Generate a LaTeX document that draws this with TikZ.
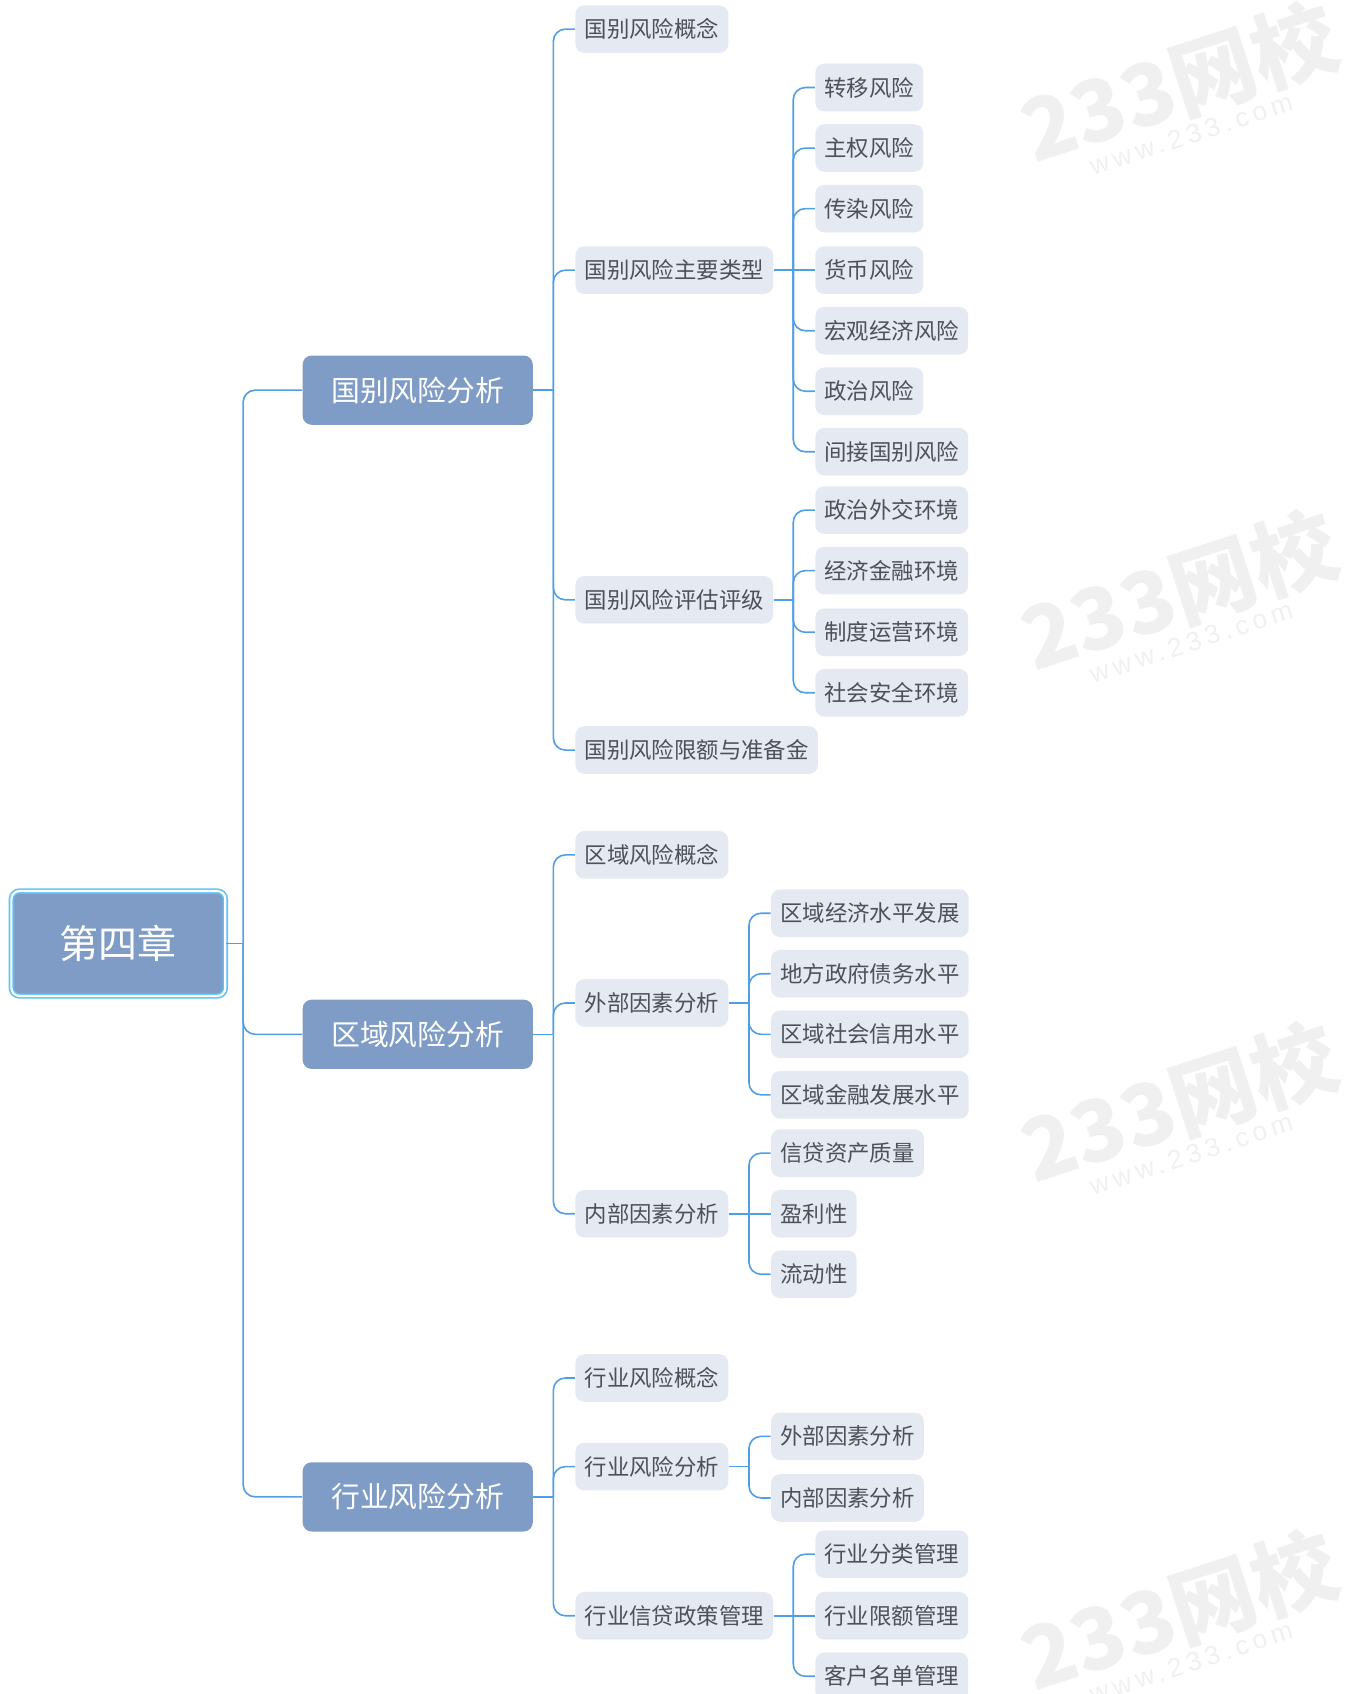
\documentclass[tikz,border=0pt]{standalone}
\usepackage{fontspec}
\setmainfont{Noto Sans CJK SC}
\newfontfamily\wmfont[LetterSpace=18]{Liberation Sans}
\definecolor{rootfill}{HTML}{7F9CC6}
\definecolor{rootline}{HTML}{5CC3F2}
\definecolor{itemfill}{HTML}{E5E9F1}
\definecolor{itemtext}{HTML}{4C5259}
\definecolor{linkblue}{HTML}{509FE6}
\definecolor{wmgray}{HTML}{F0F0F0}
\definecolor{wmlight}{HTML}{F0F0F0}
\tikzset{
    rootnode/.style={draw=rootline,line width=0.8pt,double=white,double distance=1.1pt,fill=rootfill,rounded corners=4pt,minimum width=106.9pt,minimum height=52.4pt,text=white,font=\fontsize{19.5pt}{22pt}\selectfont},
    areanode/.style={fill=rootfill,rounded corners=4.5pt,minimum width=115pt,minimum height=34.6pt,text=white,font=\fontsize{14.4pt}{17pt}\selectfont},
    itemnode/.style={fill=itemfill,rounded corners=4.5pt,anchor=west,inner xsep=4.6pt,inner ysep=0pt,minimum height=23.8pt,text=itemtext,font=\fontsize{11.2pt}{13pt}\selectfont},
    link/.style={draw=linkblue,line width=0.8pt},
    elbow/.style={link,rounded corners=6pt},
    wmbig/.style={text=wmgray,rotate=18,font=\fontsize{42.5pt}{46pt}\selectfont\bfseries},
    wmsmall/.style={text=wmlight,rotate=18,font=\wmfont\fontsize{13.2pt}{15pt}\selectfont}
}
\begin{document}
\begin{tikzpicture}[x=0.54pt,y=-0.54pt]
        \useasboundingbox (0,0) rectangle (1251,1567.4);
        %% Watermarks
        \node[wmbig] (wma1) at (1091,76) {233网校};
        \node[wmsmall] (wmb1) at (1102,124) {www.233.com};
        \node[wmbig] (wma2) at (1091,546) {233网校};
        \node[wmsmall] (wmb2) at (1102,594) {www.233.com};
        \node[wmbig] (wma3) at (1091,1020) {233网校};
        \node[wmsmall] (wmb3) at (1102,1068) {www.233.com};
        \node[wmbig] (wma4) at (1091,1490) {233网校};
        \node[wmsmall] (wmb4) at (1102,1538) {www.233.com};
        %% Root
        \node[rootnode] (root) at (109.5,873) {第四章};
        %% Areas
        \node[areanode] (ca) at (386.5,361) {国别风险分析};
        \node[areanode] (ra) at (386.5,957) {区域风险分析};
        \node[areanode] (ia) at (386.5,1385) {行业风险分析};
        %% Country risk
        \node[itemnode] (ca1) at (532,27) {国别风险概念};
        \node[itemnode] (ca2) at (532,250) {国别风险主要类型};
        \node[itemnode] (ca3) at (532,555) {国别风险评估评级};
        \node[itemnode] (ca4) at (532,694) {国别风险限额与准备金};
        \node[itemnode] (ca2a) at (754,81) {转移风险};
        \node[itemnode] (ca2b) at (754,137) {主权风险};
        \node[itemnode] (ca2c) at (754,193) {传染风险};
        \node[itemnode] (ca2d) at (754,250) {货币风险};
        \node[itemnode] (ca2e) at (754,306) {宏观经济风险};
        \node[itemnode] (ca2f) at (754,362) {政治风险};
        \node[itemnode] (ca2g) at (754,418) {间接国别风险};
        \node[itemnode] (ca3a) at (754,472) {政治外交环境};
        \node[itemnode] (ca3b) at (754,528) {经济金融环境};
        \node[itemnode] (ca3c) at (754,585) {制度运营环境};
        \node[itemnode] (ca3d) at (754,641) {社会安全环境};
        %% Regional risk
        \node[itemnode] (ra1) at (532,791) {区域风险概念};
        \node[itemnode] (ra2) at (532,928) {外部因素分析};
        \node[itemnode] (ra3) at (532,1123) {内部因素分析};
        \node[itemnode] (ra2a) at (713,845) {区域经济水平发展};
        \node[itemnode] (ra2b) at (713,901) {地方政府债务水平};
        \node[itemnode] (ra2c) at (713,957) {区域社会信用水平};
        \node[itemnode] (ra2d) at (713,1013) {区域金融发展水平};
        \node[itemnode] (ra3a) at (713,1067) {信贷资产质量};
        \node[itemnode] (ra3b) at (713,1123) {盈利性};
        \node[itemnode] (ra3c) at (713,1179) {流动性};
        %% Industry risk
        \node[itemnode] (ia1) at (532,1275) {行业风险概念};
        \node[itemnode] (ia2) at (532,1357) {行业风险分析};
        \node[itemnode] (ia3) at (532,1495) {行业信贷政策管理};
        \node[itemnode] (ia2a) at (713,1329) {外部因素分析};
        \node[itemnode] (ia2b) at (713,1386) {内部因素分析};
        \node[itemnode] (ia3a) at (754,1438) {行业分类管理};
        \node[itemnode] (ia3b) at (754,1495) {行业限额管理};
        \node[itemnode] (ia3c) at (754,1551) {客户名单管理};
        %% Bus points
        \coordinate (rootbus) at (225,873);
        \coordinate (cabus) at (512,361);
        \coordinate (rabus) at (512,957);
        \coordinate (iabus) at (512,1385);
        \coordinate (ca2bus) at (734,250);
        \coordinate (ca3bus) at (734,555);
        \coordinate (ra2bus) at (693,928);
        \coordinate (ra3bus) at (693,1123);
        \coordinate (ia2bus) at (693,1357);
        \coordinate (ia3bus) at (734,1495);
        %% Links
        \draw[link] (root.east) -- (rootbus);
        \draw[elbow] (rootbus) |- (ca.west);
        \draw[elbow] (rootbus) |- (ra.west);
        \draw[elbow] (rootbus) |- (ia.west);
        \draw[link] (ca.east) -- (cabus);
        \draw[elbow] (cabus) |- (ca1.west);
        \draw[elbow] (cabus) |- (ca2.west);
        \draw[elbow] (cabus) |- (ca3.west);
        \draw[elbow] (cabus) |- (ca4.west);
        \draw[link] (ca2.east) -- (ca2d.west);
        \draw[elbow] (ca2bus) |- (ca2a.west);
        \draw[elbow] (ca2bus) |- (ca2b.west);
        \draw[elbow] (ca2bus) |- (ca2c.west);
        \draw[elbow] (ca2bus) |- (ca2e.west);
        \draw[elbow] (ca2bus) |- (ca2f.west);
        \draw[elbow] (ca2bus) |- (ca2g.west);
        \draw[link] (ca3.east) -- (ca3bus);
        \draw[elbow] (ca3bus) |- (ca3a.west);
        \draw[elbow] (ca3bus) |- (ca3b.west);
        \draw[elbow] (ca3bus) |- (ca3c.west);
        \draw[elbow] (ca3bus) |- (ca3d.west);
        \draw[link] (ra.east) -- (rabus);
        \draw[elbow] (rabus) |- (ra1.west);
        \draw[elbow] (rabus) |- (ra2.west);
        \draw[elbow] (rabus) |- (ra3.west);
        \draw[link] (ra2.east) -- (ra2bus);
        \draw[elbow] (ra2bus) |- (ra2a.west);
        \draw[elbow] (ra2bus) |- (ra2b.west);
        \draw[elbow] (ra2bus) |- (ra2c.west);
        \draw[elbow] (ra2bus) |- (ra2d.west);
        \draw[link] (ra3.east) -- (ra3b.west);
        \draw[elbow] (ra3bus) |- (ra3a.west);
        \draw[elbow] (ra3bus) |- (ra3c.west);
        \draw[link] (ia.east) -- (iabus);
        \draw[elbow] (iabus) |- (ia1.west);
        \draw[elbow] (iabus) |- (ia2.west);
        \draw[elbow] (iabus) |- (ia3.west);
        \draw[link] (ia2.east) -- (ia2bus);
        \draw[elbow] (ia2bus) |- (ia2a.west);
        \draw[elbow] (ia2bus) |- (ia2b.west);
        \draw[link] (ia3.east) -- (ia3b.west);
        \draw[elbow] (ia3bus) |- (ia3a.west);
        \draw[elbow] (ia3bus) |- (ia3c.west);
    \end{tikzpicture}
\end{document}
